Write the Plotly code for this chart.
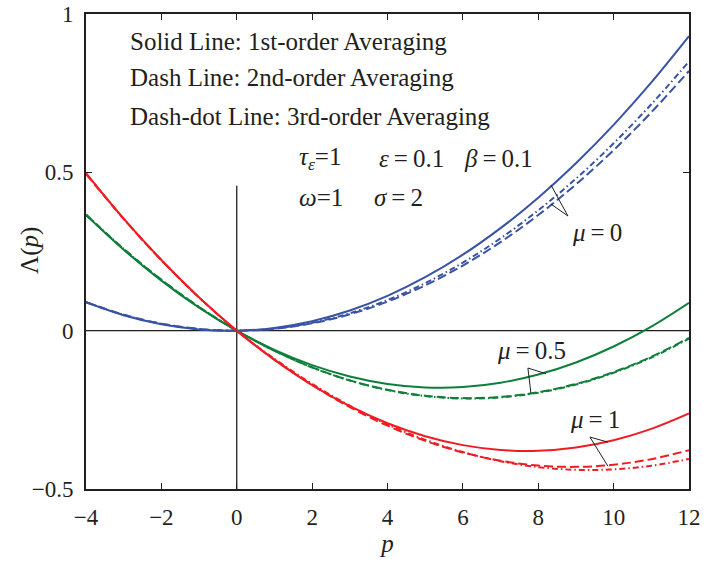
import plotly.graph_objects as go

p = [-4, -3, -2, -1, 0, 1, 2, 3, 4, 5, 6, 7, 8, 9, 10, 11, 12]

# mu = 0 (blue)
blue_1st = [0.09, 0.0488, 0.02, 0.0038, 0, 0.0088, 0.03, 0.0638, 0.11, 0.1688, 0.24, 0.3238, 0.42, 0.5288, 0.65, 0.7838, 0.93]
blue_2nd = [0.0901, 0.0505, 0.0223, 0.0055, 0, 0.0059, 0.0231, 0.0517, 0.0917, 0.143, 0.2057, 0.2797, 0.3651, 0.4619, 0.570, 0.6895, 0.8203]
blue_3rd = [0.09, 0.05, 0.0217, 0.005, 0, 0.0067, 0.025, 0.055, 0.0967, 0.15, 0.215, 0.2917, 0.38, 0.48, 0.5917, 0.715, 0.85]

# mu = 0.5 (green)
green_1st = [0.3655, 0.2556, 0.1581, 0.0729, 0, -0.0605, -0.1087, -0.1446, -0.1681, -0.1792, -0.1781, -0.1646, -0.1387, -0.1005, -0.05, 0.0129, 0.0881]
green_2nd = [0.366, 0.2577, 0.1606, 0.0747, 0, -0.0635, -0.1158, -0.1569, -0.1868, -0.2055, -0.213, -0.2093, -0.1944, -0.1683, -0.131, -0.0825, -0.0228]
green_3rd = [0.3668, 0.2583, 0.161, 0.0749, 0, -0.0637, -0.1162, -0.1575, -0.1876, -0.2065, -0.2142, -0.2107, -0.196, -0.1701, -0.133, -0.0847, -0.0252]

# mu = 1 (red)
red_1st = [0.4974, 0.3538, 0.223, 0.1051, 0, -0.0923, -0.1718, -0.2384, -0.2922, -0.3332, -0.3614, -0.3768, -0.3794, -0.3691, -0.346, -0.3101, -0.2614]
red_2nd = [0.495, 0.353, 0.2225, 0.105, 0, -0.0914, -0.1718, -0.2414, -0.3001, -0.3478, -0.3847, -0.4107, -0.4259, -0.4301, -0.4234, -0.4058, -0.3774]
red_3rd = [0.496, 0.353, 0.2228, 0.1049, 0, -0.089, -0.168, -0.237, -0.2959, -0.3447, -0.3834, -0.4122, -0.4309, -0.4394, -0.438, -0.4265, -0.4049]

x_ticks = [-4, -2, 0, 2, 4, 6, 8, 10, 12]
y_ticks = [-0.5, 0, 0.5, 1]
y_tick_text = ["\u22120.5", "0", "0.5", "1"]

BLUE = "#3953a4"
GREEN = "#0e7f3b"
RED = "#ee1d24"
INK = "#231f20"
SERIF = "'Liberation Serif', 'Times New Roman', serif"

DASH = "9px,4px"
DASHDOT = "6px,3px,1.5px,3px"

fig = go.Figure()

series = [
    (blue_1st, BLUE, "solid"), (blue_3rd, BLUE, DASHDOT), (blue_2nd, BLUE, DASH),
    (green_1st, GREEN, "solid"), (green_3rd, GREEN, DASHDOT), (green_2nd, GREEN, DASH),
    (red_1st, RED, "solid"), (red_3rd, RED, DASHDOT), (red_2nd, RED, DASH),
]
for ys, col, dash in series:
    fig.add_trace(go.Scatter(x=p, y=ys, mode="lines",
                             line=dict(color=col, width=2, dash=dash, shape="spline", smoothing=1),
                             showlegend=False, hoverinfo="skip"))

# zero lines
fig.add_shape(type="line", x0=-4, x1=12, y0=0, y1=0, line=dict(color=INK, width=1.3), layer="below")
fig.add_shape(type="line", x0=0, x1=0, y0=-0.5, y1=0.458, line=dict(color=INK, width=1.3), layer="below")

# leader lines for mu labels
leaders = [
    ((8.788, 0.362), (8.337, 0.460), (8.337, 0.400)),
    ((7.726, -0.118), (8.204, -0.136), (7.806, -0.198)),
    ((9.371, -0.336), (9.849, -0.352), (9.849, -0.428)),
]
for v, a, b in leaders:
    for e in (a, b):
        fig.add_shape(type="line", x0=v[0], y0=v[1], x1=e[0], y1=e[1], line=dict(color=INK, width=1))

EQ = "\u2009=\u2009"
txt_font = dict(family=SERIF, size=25, color=INK)
texts = [
    (-2.886, 0.912, "Solid Line: 1st-order Averaging"),
    (-2.886, 0.798, "Dash Line: 2nd-order Averaging"),
    (-2.886, 0.675, "Dash-dot Line: 3rd-order Averaging"),
    (1.598, 0.545, "<i>τ</i><sub><i>ε</i></sub>=1"),
    (3.72, 0.545, "<i>ε</i>" + EQ + "0.1"),
    (5.975, 0.545, "<i>β</i>" + EQ + "0.1"),
    (1.598, 0.419, "<i>ω</i>=1"),
    (3.588, 0.419, "<i>σ</i>" + EQ + "2"),
    (8.85, 0.310, "<i>μ</i>" + EQ + "0"),
    (6.85, -0.062, "<i>μ</i>" + EQ + "0.5"),
    (8.79, -0.282, "<i>μ</i>" + EQ + "1"),
]
for x, y, t in texts:
    fig.add_annotation(x=x, y=y, text=t, showarrow=False, xanchor="left", yanchor="middle",
                       font=txt_font)

# y-axis title as a rotated annotation
fig.add_annotation(x=-0.093, y=0.503, xref="paper", yref="paper", text="Λ(<i>p</i>)",
                   textangle=-90, showarrow=False, xanchor="center", yanchor="middle",
                   font=dict(family=SERIF, size=25, color=INK))

axis_common = dict(showgrid=False, zeroline=False, showline=True, linecolor=INK, linewidth=2,
                   mirror="ticks", ticks="inside", ticklen=6, tickwidth=1.3, tickcolor=INK,
                   automargin=False,
                   tickfont=dict(family=SERIF, size=23, color=INK))

fig.update_xaxes(range=[-4, 12], tickvals=x_ticks, ticklabelstandoff=6,
                 title=dict(text="<i>p</i>", font=dict(family=SERIF, size=25, color=INK), standoff=5),
                 **axis_common)
fig.update_yaxes(range=[-0.5, 1], tickvals=y_ticks, ticktext=y_tick_text, ticklabelstandoff=6,
                 **axis_common)

fig.update_layout(width=714, height=562, margin=dict(l=86, r=25, t=14, b=73),
                  plot_bgcolor="white", paper_bgcolor="white", showlegend=False)

fig.write_html("out.html")
